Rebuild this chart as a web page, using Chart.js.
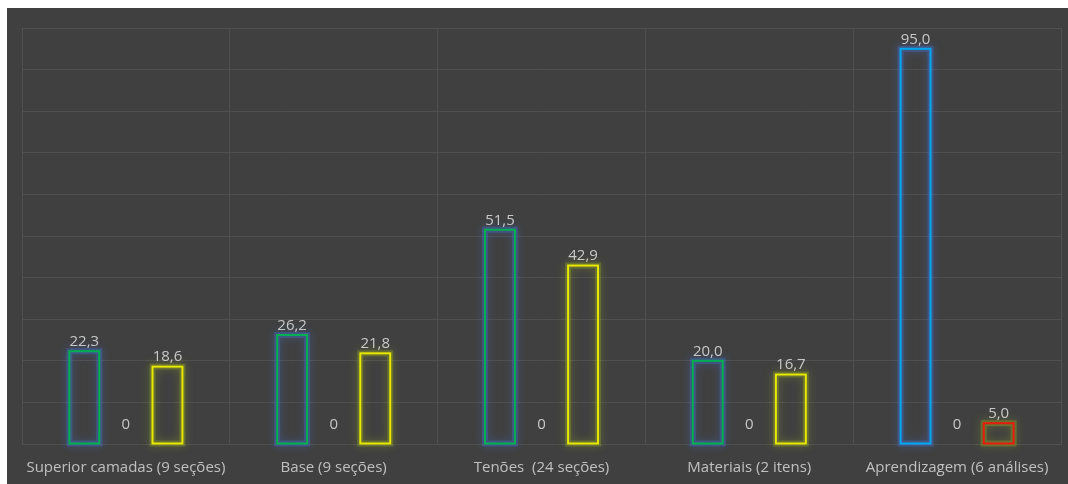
<!DOCTYPE html>
<html>
<head>
<meta charset="utf-8">
<script src="https://cdn.jsdelivr.net/npm/chart.js@4/dist/chart.umd.min.js"></script>
<style>
    html, body { margin: 0; padding: 0; background: #ffffff; }
    #wrap { position: absolute; left: 7px; top: 8px; width: 1061px; height: 476px; background: #404040; }
</style>
</head>
<body>
<div id="wrap"><canvas id="chart" width="1061" height="476"></canvas></div>
<script>
// Categories and values
const categories = ['Superior camadas (9 seções)', 'Base (9 seções)', 'Tenões  (24 seções)', 'Materiais (2 itens)', 'Aprendizagem (6 análises)'];
const seriesA = [22.3, 26.2, 51.5, 20.0, 95.0];
const seriesB = [0, 0, 0, 0, 0];
const seriesC = [18.6, 21.8, 42.9, 16.7, 5.0];
const yTicks = [0, 10, 20, 30, 40, 50, 60, 70, 80, 90, 100];

const lineA = ['#00b050', '#00b050', '#00b050', '#00b050', '#00a8f0'];
const lineC = ['#e8e800', '#e8e800', '#e8e800', '#e8e800', '#e81c0c'];
const glow = ['rgba(70,120,230,0.9)', null, 'rgba(160,180,30,0.9)'];

function fmt(v) {
    return v === 0 ? '0' : v.toFixed(1).replace('.', ',');
}

// outlined bars with glow + value labels
const outlineBars = {
    id: 'outlineBars',
    afterDatasetsDraw(chart) {
        const ctx = chart.ctx;
        chart.data.datasets.forEach((ds, i) => {
            const meta = chart.getDatasetMeta(i);
            meta.data.forEach((bar, j) => {
                const v = ds.data[j];
                const w = bar.width;
                if (v > 0) {
                    ctx.save();
                    if (glow[i]) {
                        // soft halo
                        ctx.strokeStyle = glow[i];
                        ctx.shadowColor = glow[i];
                        ctx.shadowBlur = 9;
                        ctx.globalAlpha = 0.35;
                        ctx.lineWidth = 6;
                        ctx.strokeRect(bar.x - w / 2, bar.y, w, bar.base - bar.y);
                        ctx.globalAlpha = 1;
                        ctx.shadowBlur = 0;
                    }
                    ctx.lineWidth = 2;
                    ctx.strokeStyle = ds.lineColors[j];
                    ctx.strokeRect(bar.x - w / 2, bar.y, w, bar.base - bar.y);
                    ctx.restore();
                }
                ctx.save();
                ctx.fillStyle = '#c8c8c8';
                ctx.font = '15px "Open Sans", "Noto Sans", sans-serif';
                ctx.textAlign = 'center';
                ctx.textBaseline = 'bottom';
                let y = Math.min(bar.y, bar.base - 10) - 2;
                ctx.fillText(fmt(v), bar.x, y);
                ctx.restore();
            });
        });
    }
};

new Chart(document.getElementById('chart'), {
    type: 'bar',
    data: {
        labels: categories,
        datasets: [
            { data: seriesA, lineColors: lineA, backgroundColor: 'transparent', borderWidth: 0 },
            { data: seriesB, lineColors: lineA, backgroundColor: 'transparent', borderWidth: 0 },
            { data: seriesC, lineColors: lineC, backgroundColor: 'transparent', borderWidth: 0 }
        ]
    },
    options: {
        responsive: false,
        animation: false,
        layout: { padding: { left: 15, right: 7, top: 20, bottom: 0 } },
        categoryPercentage: 0.6,
        barPercentage: 0.72,
        plugins: {
            legend: { display: false },
            tooltip: { enabled: false }
        },
        scales: {
            x: {
                afterFit: (s) => { s.height = 40; },
                grid: { color: '#505050', lineWidth: 1, drawTicks: false, offset: true },
                border: { color: '#505050' },
                ticks: {
                    color: '#c0c0c0',
                    font: { family: '"Open Sans", "Noto Sans", sans-serif', size: 15 },
                    padding: 15,
                    maxRotation: 0
                }
            },
            y: {
                min: 0,
                max: 100,
                afterBuildTicks: (s) => { s.ticks = yTicks.map(v => ({ value: v })); },
                afterFit: (s) => { s.width = 0; },
                grid: { color: '#505050', lineWidth: 1, drawTicks: false },
                border: { display: false },
                ticks: { display: false }
            }
        }
    },
    plugins: [outlineBars]
});
</script>
</body>
</html>
